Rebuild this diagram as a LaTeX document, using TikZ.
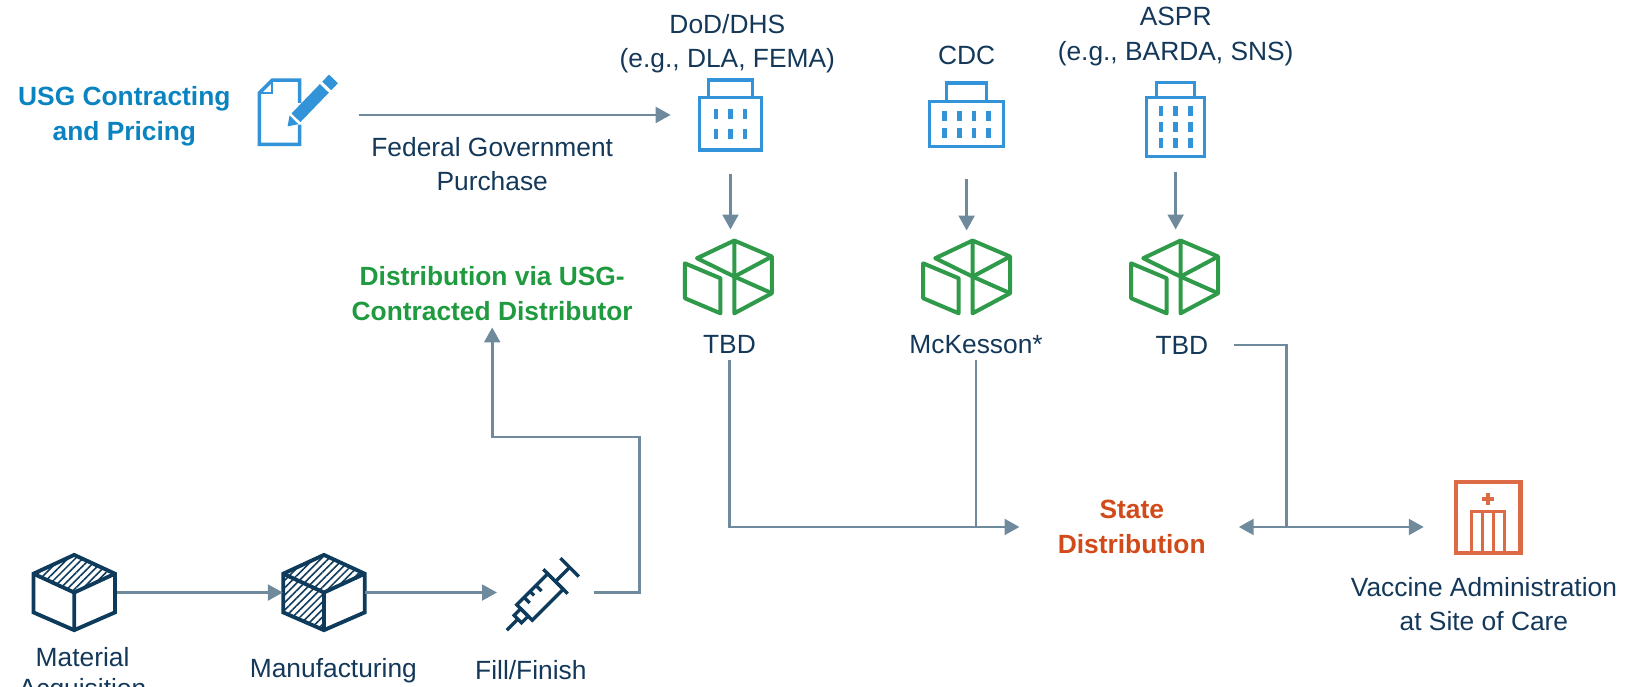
\documentclass[tikz,border=0pt]{standalone}
\usepackage{fontspec}
\setmainfont{Liberation Sans}
\usetikzlibrary{arrows.meta, patterns.meta}

\definecolor{navy}{HTML}{143859}
\definecolor{usgblue}{HTML}{0A84C0}
\definecolor{iconblue}{HTML}{3393D8}
\definecolor{distgreen}{HTML}{1F9A3F}
\definecolor{icongreen}{HTML}{2F9B4A}
\definecolor{stateorange}{HTML}{D04A1A}
\definecolor{iconorange}{HTML}{DB6A45}
\definecolor{slate}{HTML}{6E8A9C}
\definecolor{cubenavy}{HTML}{0E3B5B}

\tikzset{
    lbl/.style={text=navy, align=center, font=\fontsize{15}{19.5}\selectfont},
    hdr/.style={align=center, font=\fontsize{15}{20}\selectfont\bfseries},
    icon/.style 2 args={minimum width=#1*0.0209cm, minimum height=#2*0.0209cm, inner sep=0pt},
    flow/.style={draw=slate, line width=1.5pt, -{Triangle[length=8.5pt,width=9pt]}},
    link/.style={draw=slate, line width=1.5pt},
    % building: body w/h, roof w/h, window cols/rows, row step
    pics/bldg/.style n args={7}{code={
        \draw[iconblue, line width=1.8pt] ({-#1/2},{(#4-#2)/2}) rectangle ({#1/2},{(#2+#4)/2});
        \draw[iconblue, line width=1.8pt] ({-#3/2},{(#4-#2)/2}) -- ({-#3/2},{-(#2+#4)/2})
            -- ({#3/2},{-(#2+#4)/2}) -- ({#3/2},{(#4-#2)/2});
        \foreach \c in {1,...,#5} {
            \foreach \r in {1,...,#6} {
                \fill[iconblue] ({(\c-(#5+1)/2)*14-2.2},{#4/2+(\r-(#6+1)/2)*#7-4.8}) rectangle ++(4.4,9.6);
            }
        }
    }},
    pics/crate/.style={code={
        \begin{scope}[icongreen, line width=2.3pt, line join=round]
            \draw (5.7,-34.8) -- (41.6,-19.5) -- (41.6,15.6) -- (5.7,34.8) -- cycle;
            \draw (5.7,-34.8) -- (-30,-17.9) -- (5.7,-0.3) -- (41.6,-19.5);
            \draw (5.7,-0.3) -- (41.6,15.6);
            \draw (-41.6,-13) -- (-7.6,1.3) -- (-7.6,34.8) -- (-41.6,20.4) -- cycle;
        \end{scope}
    }},
    pics/cube/.style={code={
        \fill[pattern={Lines[angle=45,distance=3pt,line width=0.9pt]}, pattern color=cubenavy]
            (0,-36) -- (39,-18) -- (0,0) -- (-39,-18) -- cycle;
        \ifnum#1>1
            \fill[pattern={Lines[angle=45,distance=3pt,line width=0.9pt]}, pattern color=cubenavy]
                (-39,-18) -- (0,0) -- (0,36) -- (-39,19) -- cycle;
        \fi
        \draw[cubenavy, line width=2.2pt, line join=miter]
            (0,-36) -- (39,-18) -- (39,19) -- (0,36) -- (-39,19) -- (-39,-18) -- cycle;
        \draw[cubenavy, line width=2.2pt] (-39,-18) -- (0,0) -- (39,-18) (0,0) -- (0,36);
    }},
    pics/syringe/.style={code={
        \begin{scope}[rotate=45, cubenavy, line width=1.9pt]
            \draw (-51,0) -- (-36,0);
            \draw (-36,-5) rectangle (-27,5);
            \draw (-27,-10.5) rectangle (15,10.5);
            \draw (-17,-10.5) -- (-17,-3) (-9,-10.5) -- (-9,-5) (-1,-10.5) -- (-1,-3);
            \draw (15,-16.5) -- (15,16.5);
            \draw (15,0) -- (34,0);
            \draw (34,-12.5) -- (34,12.5);
        \end{scope}
    }},
    pics/hosp/.style={code={
        \draw[iconorange, line width=2.4pt] (-31,-34) rectangle (31,34);
        \draw[iconorange, line width=2pt] (0,-23.5) -- (0,-11.5) (-6,-17.5) -- (6,-17.5);
        \draw[iconorange, line width=1.8pt] (-15.5,34) -- (-15.5,-5.4) -- (15.5,-5.4) -- (15.5,34)
            (-5,-5.4) -- (-5,34) (5,-5.4) -- (5,34);
    }},
    pics/docpen/.style={code={
        \draw[iconblue, line width=2pt, line join=miter]
            (2.5,-10.5) -- (2.5,-30.3) -- (-21.4,-30.3) -- (-32.6,-19.1) -- (-32.6,25.6) -- (2.5,25.6) -- (2.5,8.5);
        \draw[iconblue, line width=1.3pt] (-32.6,-19.1) -- (-21.4,-19.1) -- (-21.4,-30.3);
        \begin{scope}[shift={(-8,10)}, rotate=46]
            \fill[iconblue] (0,0) -- (8,-5.4) -- (8,5.4) -- cycle;
            \fill[iconblue] (10.5,-5.4) rectangle (46,5.4);
            \fill[iconblue] (49,-5.4) rectangle (57.5,5.4);
        \end{scope}
    }}
}

\begin{document}
\begin{tikzpicture}[x=0.0209cm, y=-0.0209cm]
    \useasboundingbox (0,0) rectangle (1566.5,656.5);

    % Contracting and purchase
    \node[hdr, text=usgblue, anchor=north] (usg) at (119,77) {USG Contracting\\and Pricing};
    \node[icon={74}{70}] (doc) at (284,110) {};
    \pic[scale=1.1] at (doc) {docpen};
    \node[lbl, anchor=north] (fedbuy) at (471,125.6) {Federal Government\\Purchase};

    % Federal agencies
    \node[lbl, anchor=north] (dodlbl) at (696,7.6) {DoD/DHS\\(e.g., DLA, FEMA)};
    \node[lbl, anchor=base] (cdclbl) at (925,62) {CDC};
    \node[lbl, anchor=north] (asprlbl) at (1125,1.2) {ASPR\\(e.g., BARDA, SNS)};
    \node[icon={60}{66}] (dod) at (699,110) {};
    \node[icon={71}{61}] (cdc) at (925,110) {};
    \node[icon={56}{71}] (aspr) at (1125,114.5) {};
    \pic at (dod) {bldg={60}{50}{42}{17}{3}{2}{19}};
    \pic at (cdc) {bldg={71}{43}{38}{18}{4}{2}{16}};
    \pic at (aspr) {bldg={56}{57}{36}{14}{3}{3}{15}};

    % Distributors
    \node[icon={87}{72}] (box1) at (697,265) {};
    \node[icon={87}{72}] (box2) at (925,265) {};
    \node[icon={87}{72}] (box3) at (1124,265) {};
    \foreach \b in {box1, box2, box3} {
        \pic at (\b) {crate};
    }
    \node[lbl, anchor=base] (tbd1) at (698,338.5) {TBD};
    \node[lbl, anchor=base] (mck) at (934,338) {McKesson*};
    \node[lbl, anchor=base] (tbd3) at (1131,338.8) {TBD};
    \node[hdr, text=distgreen, anchor=north] (dist) at (471,249.3) {Distribution via USG-\\Contracted Distributor};

    % State and site of care
    \node[hdr, text=stateorange, anchor=north] (state) at (1083,472.6) {State\\Distribution};
    \node[icon={62}{68}] (hosp) at (1424,495) {};
    \pic at (hosp) {hosp};
    \node[lbl, anchor=north] (vax) at (1420,546.6) {Vaccine Administration\\at Site of Care};

    % Production chain
    \node[icon={78}{72}] (matcube) at (71,567) {};
    \node[icon={78}{72}] (mfgcube) at (310,567) {};
    \node[icon={70}{74}] (syr) at (521,567) {};
    \pic at (matcube) {cube=1};
    \pic at (mfgcube) {cube=2};
    \pic at (syr) {syringe};
    \node[lbl, anchor=north, font=\fontsize{15}{17.5}\selectfont] (mat) at (79,613.6) {Material\\Acquisition};
    \node[lbl, anchor=base] (mfg) at (319,648) {Manufacturing};
    \node[lbl, anchor=base] (fill) at (508,650) {Fill/Finish};

    % Connectors
    \draw[flow, shorten <=13.1pt, shorten >=16pt] (doc.east) -- (dod.west);
    \draw[flow, shorten <=13.7pt, shorten >=5.4pt] (dod.south) -- (dod.south |- box1.north);
    \draw[flow, shorten <=18.1pt, shorten >=4.8pt] (cdc.south) -- (cdc.south |- box2.north);
    \draw[flow, shorten <=8.3pt, shorten >=5.4pt] (aspr.south) -- (aspr.south |- box3.north);
    \draw[flow, shorten >=18.3pt] (tbd1.south) |- (state.west);
    \draw[link] (mck.south) -- (mck.south |- state.west);
    \draw[flow, {Triangle[length=8.5pt,width=9pt]}-{Triangle[length=8.5pt,width=9pt]},
        shorten <=15.3pt, shorten >=18pt] (state.east) -- (state.east -| hosp.west);
    \path (state.east) ++(71.3,0) coordinate (junc);
    \draw[link, shorten <=10.9pt] (tbd3.east) -| (junc);
    \draw[flow, shorten <=1.2pt] (matcube.east) -- (mfgcube.west);
    \draw[flow, shorten >=6pt] (mfgcube.east) -- (syr.west);
    \coordinate (bend) at (612,418);
    \draw[flow, shorten <=7.1pt] (syr.east) -| (bend) -| (dist.south);
\end{tikzpicture}
\end{document}
